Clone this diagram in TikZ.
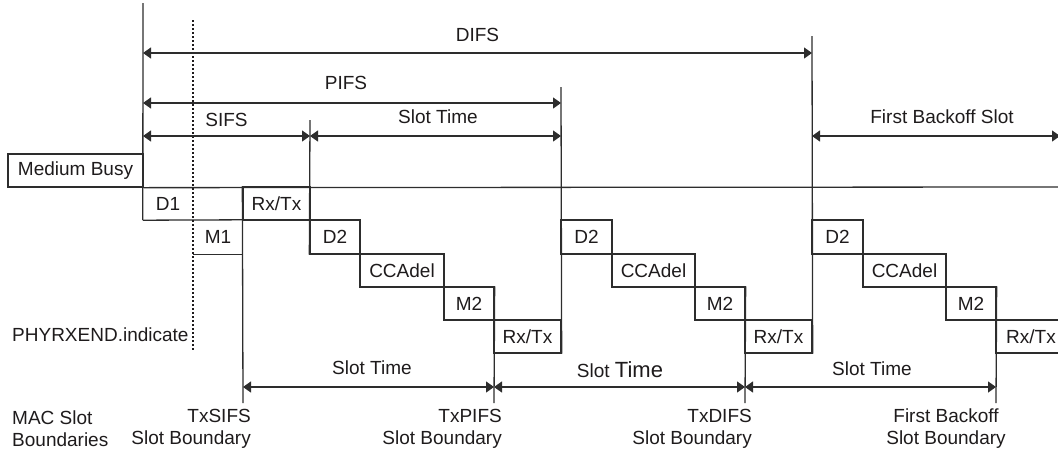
\documentclass[tikz,border=0pt]{standalone}
\usepackage{fontspec}
\setmainfont{Liberation Sans}
\usetikzlibrary{arrows.meta}
\definecolor{lc}{RGB}{45,45,45}
\definecolor{tc}{RGB}{30,27,28}
\newcommand{\lab}{\fontsize{19}{22}\selectfont}
\tikzset{
  ln/.style={draw=lc, line width=1.3pt},
  dotln/.style={draw=tc, line width=1.6pt, dash pattern=on 2pt off 2pt},
  lbl/.style={font=\lab, text=tc, inner sep=0pt},
  box/.style={draw=lc, line width=1.3pt, font=\lab, text=tc, inner sep=0pt},
  tbox/.style={font=\lab, text=tc, inner sep=0pt},
  tip/.tip={Triangle[length=8pt,width=11pt]},
  dim/.style={ln, tip-tip},
}
\begin{document}
\begin{tikzpicture}[x=1pt,y=-1pt]
\useasboundingbox (0,0) rectangle (1058,453);
% Medium busy
\node[box, minimum width=135pt, minimum height=33pt] (mb) at (75.5,170.5) {Medium Busy};
% boxes
\node[tbox, minimum width=50pt, minimum height=33pt] (d1) at (168,203.5) {D1};
\node[tbox, minimum width=50pt, minimum height=34pt] (m1) at (218,237) {M1};
\node[box, minimum width=67pt, minimum height=33pt] (rt1) at (276.5,203.5) {Rx/Tx};
\node[box, minimum width=50pt, minimum height=34pt] (d2a) at (335,237) {D2};
\node[box, minimum width=84pt, minimum height=33pt] (cca) at (402,270.5) {CCAdel};
\node[box, minimum width=50pt, minimum height=33pt] (m2a) at (469,303.5) {M2};
\node[box, minimum width=67pt, minimum height=33pt] (rta) at (527.5,336.5) {Rx/Tx};
\node[box, minimum width=51pt, minimum height=34pt] (d2b) at (586.5,237) {D2};
\node[box, minimum width=83pt, minimum height=33pt] (ccb) at (653.5,270.5) {CCAdel};
\node[box, minimum width=50pt, minimum height=33pt] (m2b) at (720,303.5) {M2};
\node[box, minimum width=67pt, minimum height=33pt] (rtb) at (778.5,336.5) {Rx/Tx};
\node[box, minimum width=51pt, minimum height=34pt] (d2c) at (837.5,237) {D2};
\node[box, minimum width=83pt, minimum height=33pt] (ccc) at (904.5,270.5) {CCAdel};
\node[box, minimum width=50pt, minimum height=33pt] (m2c) at (971,303.5) {M2};
\node[box, minimum width=70pt, minimum height=33pt] (rtc) at (1031,336.5) {};
\node[tbox] (rtct) at (1031,336.5) {Rx/Tx};
% baseline
\draw[ln] (mb.south east) -- (1058,187);
% D1 / M1 edges
\draw[ln] (d1.south west) -- (m1.north east);
\draw[ln] (m1.south west) -- (m1.south east);
% vertical lines
\coordinate (v0t) at (143,3);
\draw[ln] (v0t) -- (d1.south west);
\draw[dotln] (193,20) -- (193,350);
\coordinate (b1) at (243,403);
\draw[ln] (rt1.north west) -- (b1);
\draw[ln] (310,120) -- (d2a.south west);
\coordinate (b2) at (494,403);
\draw[ln] (m2a.north east) -- (b2);
\draw[ln] (561,87) -- (rta.south east);
\coordinate (b3) at (745,403);
\draw[ln] (m2b.north east) -- (b3);
\draw[ln] (812,36) -- (rtb.south east);
\coordinate (b4) at (996,403);
\draw[ln] (m2c.north east) -- (b4);
% top dimension arrows
\draw[dim] (143,53) -- node[lbl, above=11pt] {DIFS} (812,53);
\draw[dim] (143,103) -- (561,103);
\node[lbl] at (346,83) {PIFS};
\draw[dim] (143,136) -- node[lbl, above=9pt] {SIFS} (310,136);
\draw[dim] (310,136) -- (561,136);
\node[lbl] at (438,117) {Slot Time};
\draw[dim] (812,136) -- (1060,136);
\node[lbl] at (942,117) {First Backoff Slot};
% bottom dimension arrows
\draw[dim] (243,387) -- (494,387);
\node[lbl] at (372,368) {Slot Time};
\draw[dim] (494,387) -- (745,387);
\node[lbl] at (620,370) {Slot {\fontsize{22}{24}\selectfont Time}};
\draw[dim] (745,387) -- (996,387);
\node[lbl] at (872,369) {Slot Time};
% labels
\node[lbl, anchor=west] at (12,335) {PHYRXEND.indicate};
\node[lbl, anchor=west, align=left] at (12,429) {MAC Slot\\Boundaries};
\node[lbl, anchor=east, align=right] at (251,429) {TxSIFS\\Slot Boundary};
\node[lbl, anchor=east, align=right] at (502,429) {TxPIFS\\Slot Boundary};
\node[lbl, anchor=east, align=right] at (752,429) {TxDIFS\\Slot Boundary};
\node[lbl, align=center] at (946,429) {First Backoff\\Slot Boundary};
\end{tikzpicture}
\end{document}
